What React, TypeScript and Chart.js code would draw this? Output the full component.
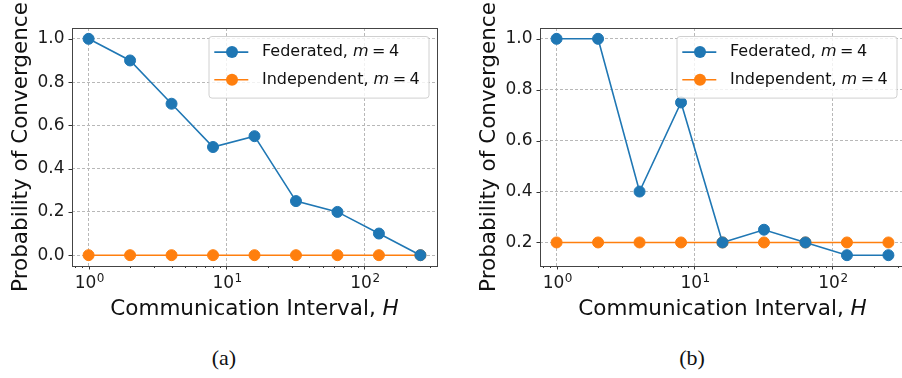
import React, { useEffect, useRef } from "react";
import { Chart, registerables } from "chart.js";
Chart.register(...registerables);

// ---------- data ----------
const intervals = [1, 2, 4, 8, 16, 32, 64, 128, 256];
const federatedA = [1.0, 0.9, 0.7, 0.5, 0.55, 0.25, 0.2, 0.1, 0.0];
const independentA = [0, 0, 0, 0, 0, 0, 0, 0, 0];
const federatedB = [1.0, 1.0, 0.4, 0.75, 0.2, 0.25, 0.2, 0.15, 0.15];
const independentB = [0.2, 0.2, 0.2, 0.2, 0.2, 0.2, 0.2, 0.2, 0.2];
const yTicksA = [0.0, 0.2, 0.4, 0.6, 0.8, 1.0];
const yTicksB = [0.2, 0.4, 0.6, 0.8, 1.0];
const xMajorTicks = [1, 10, 100];
const xMajorBase = "10";
const xMajorExponents = ["0", "1", "2"];
const xMinorTicks = [0.8, 0.9, 2, 3, 4, 5, 6, 7, 8, 9, 20, 30, 40, 50, 60, 70, 80, 90, 200, 300];
const seriesNames = ["Federated", "Independent"];
const mathVar = "m";
const mathEq = "=";
const mathVal = "4";
const yTitle = "Probability of Convergence";
const xTitle = "Communication Interval, ";
const xTitleVar = "H";
const captions = ["(a)", "(b)"];

const BLUE = "#1f77b4";
const ORANGE = "#ff7f0e";
const FONT = '"DejaVu Sans", sans-serif';
const TEXT = "#111";

type Part = { t: string; italic?: boolean; padL?: number; padR?: number; size?: number; rise?: number };

function drawRich(
  ctx: CanvasRenderingContext2D,
  parts: Part[],
  x: number,
  y: number,
  size: number,
  align: "left" | "center",
  baseline: CanvasTextBaseline = "middle"
) {
  const fontOf = (p: Part) => `${p.italic ? "italic " : ""}${p.size ?? size}px ${FONT}`;
  let total = 0;
  const ws = parts.map((p) => {
    ctx.font = fontOf(p);
    const w = ctx.measureText(p.t).width + (p.padL ?? 0) + (p.padR ?? 0);
    total += w;
    return w;
  });
  let cx = align === "center" ? x - total / 2 : x;
  ctx.textBaseline = baseline;
  ctx.textAlign = "left";
  parts.forEach((p, i) => {
    ctx.font = fontOf(p);
    ctx.fillText(p.t, cx + (p.padL ?? 0), y - (p.rise ?? 0));
    cx += ws[i];
  });
}

function logBounds(vals: number[]) {
  const lo = Math.log10(Math.min(...vals));
  const hi = Math.log10(Math.max(...vals));
  const m = (hi - lo) * 0.05;
  return [Math.pow(10, lo - m), Math.pow(10, hi + m)];
}
function linBounds(vals: number[]) {
  const lo = Math.min(...vals);
  const hi = Math.max(...vals);
  const m = (hi - lo) * 0.05;
  return [lo - m, hi + m];
}

const decorPlugin = {
  id: "decor",
  afterDraw(chart: any) {
    const ctx: CanvasRenderingContext2D = chart.ctx;
    const a = chart.chartArea;
    const xs = chart.scales.x;
    const ys = chart.scales.y;
    const yTicks: number[] = chart.options.plugins.decor.yTicks;
    ctx.save();
    // tick marks
    ctx.strokeStyle = "#333";
    ctx.lineWidth = 1;
    ctx.beginPath();
    xMajorTicks.forEach((v) => {
      const px = Math.round(xs.getPixelForValue(v)) + 0.5;
      ctx.moveTo(px, a.bottom);
      ctx.lineTo(px, a.bottom + 3.5);
    });
    xMinorTicks.forEach((v) => {
      const px = xs.getPixelForValue(v);
      if (px < a.left || px > a.right) return;
      const p = Math.round(px) + 0.5;
      ctx.moveTo(p, a.bottom);
      ctx.lineTo(p, a.bottom + 2);
    });
    yTicks.forEach((v) => {
      const py = Math.round(ys.getPixelForValue(v)) + 0.5;
      ctx.moveTo(a.left - 3.5, py);
      ctx.lineTo(a.left, py);
    });
    ctx.stroke();
    // spines
    ctx.strokeStyle = "#444";
    ctx.lineWidth = 1;
    ctx.strokeRect(Math.round(a.left) + 0.5, Math.round(a.top) + 0.5, Math.round(a.right - a.left), Math.round(a.bottom - a.top));

    // x tick labels (10 with superscript exponent)
    ctx.fillStyle = "#1a1a1a";
    xMajorTicks.forEach((v, i) => {
      const px = xs.getPixelForValue(v);
      drawRich(
        ctx,
        [{ t: xMajorBase }, { t: xMajorExponents[i], size: 12, rise: 6.6, padL: 0.5 }],
        px + 1,
        a.bottom + 22.3,
        17,
        "center",
        "alphabetic"
      );
    });

    // legend
    const lw = 220, lh = 61.6;
    const lx = a.right - 8 - lw;
    const ly = a.top + 8.5;
    const r = 3;
    ctx.beginPath();
    ctx.moveTo(lx + r, ly);
    ctx.lineTo(lx + lw - r, ly);
    ctx.arcTo(lx + lw, ly, lx + lw, ly + r, r);
    ctx.lineTo(lx + lw, ly + lh - r);
    ctx.arcTo(lx + lw, ly + lh, lx + lw - r, ly + lh, r);
    ctx.lineTo(lx + r, ly + lh);
    ctx.arcTo(lx, ly + lh, lx, ly + lh - r, r);
    ctx.lineTo(lx, ly + r);
    ctx.arcTo(lx, ly, lx + r, ly, r);
    ctx.closePath();
    ctx.fillStyle = "rgba(255,255,255,0.8)";
    ctx.fill();
    ctx.strokeStyle = "#d0d0d0";
    ctx.stroke();
    const colors = [BLUE, ORANGE];
    const rows = [15.6, 43.3];
    seriesNames.forEach((name, i) => {
      const cy = ly + rows[i];
      ctx.strokeStyle = colors[i];
      ctx.lineWidth = 1.6;
      ctx.beginPath();
      ctx.moveTo(lx + 5.3, cy);
      ctx.lineTo(lx + 39.3, cy);
      ctx.stroke();
      ctx.fillStyle = colors[i];
      ctx.beginPath();
      ctx.arc(lx + 23, cy, 6, 0, Math.PI * 2);
      ctx.fill();
      ctx.fillStyle = TEXT;
      drawRich(
        ctx,
        [
          { t: name + ", " },
          { t: mathVar, italic: true },
          { t: mathEq, padL: 3.5, padR: 3.5 },
          { t: mathVal },
        ],
        lx + 53,
        cy,
        16,
        "left"
      );
    });

    // x title
    ctx.fillStyle = TEXT;
    drawRich(ctx, [{ t: xTitle }, { t: xTitleVar, italic: true }], (a.left + a.right) / 2, a.bottom + 43, 21.5, "center");
    ctx.restore();
  },
};

function makeConfig(fed: number[], ind: number[], yTicks: number[]): any {
  const [xMin, xMax] = logBounds(intervals);
  const [yMin, yMax] = linBounds([...fed, ...ind]);
  const mk = (vals: number[]) => intervals.map((h, i) => ({ x: h, y: vals[i] }));
  const ds = (label: string, vals: number[], color: string) => ({
    label,
    data: mk(vals),
    borderColor: color,
    backgroundColor: color,
    borderWidth: 1.6,
    pointRadius: 5.5,
    pointBorderWidth: 1,
    pointBackgroundColor: color,
    pointBorderColor: color,
    tension: 0,
    fill: false,
  });
  return {
    type: "line",
    data: { datasets: [ds(seriesNames[0], fed, BLUE), ds(seriesNames[1], ind, ORANGE)] },
    plugins: [decorPlugin],
    options: {
      animation: false,
      responsive: false,
      events: [],
      layout: { padding: { left: 0, top: 28, right: 15, bottom: 0 } },
      plugins: {
        legend: { display: false },
        tooltip: { enabled: false },
        decor: { yTicks },
      },
      scales: {
        x: {
          type: "logarithmic",
          min: xMin,
          max: xMax,
          bounds: "data",
          afterBuildTicks: (s: any) => {
            s.ticks = xMajorTicks.map((v) => ({ value: v, major: true }));
          },
          afterFit: (s: any) => {
            s.height = 64;
          },
          ticks: { display: false, autoSkip: false, maxRotation: 0 },
          grid: { color: "#b8b8b8", lineWidth: 1, drawTicks: false },
          border: { display: false, dash: [3, 2] },
        },
        y: {
          type: "linear",
          min: yMin,
          max: yMax,
          bounds: "data",
          afterBuildTicks: (s: any) => {
            s.ticks = yTicks.map((v) => ({ value: v }));
          },
          afterFit: (s: any) => {
            s.width = 72;
          },
          ticks: {
            autoSkip: false,
            padding: 7.5,
            color: "#1a1a1a",
            font: { family: FONT, size: 17 },
            callback: (v: any) => Number(v).toFixed(1),
          },
          grid: { color: "#b8b8b8", lineWidth: 1, drawTicks: false },
          border: { display: false, dash: [3, 2] },
          title: {
            display: true,
            text: yTitle,
            color: TEXT,
            font: { family: FONT, size: 21.5 },
            padding: { top: 8.5, bottom: 0 },
          },
        },
      },
    },
  };
}

function Panel({ fed, ind, yTicks, left }: { fed: number[]; ind: number[]; yTicks: number[]; left: number }) {
  const ref = useRef<HTMLCanvasElement>(null);
  useEffect(() => {
    if (!ref.current) return;
    const chart = new Chart(ref.current, makeConfig(fed, ind, yTicks));
    return () => chart.destroy();
  }, []);
  return (
    <canvas
      ref={ref}
      width={452}
      height={330}
      style={{ position: "absolute", left, top: 0, width: 452, height: 330 }}
    />
  );
}

export default function App() {
  const capStyle = (cx: number): React.CSSProperties => ({
    position: "absolute",
    left: cx - 40,
    width: 80,
    top: 345,
    height: 26,
    lineHeight: "26px",
    textAlign: "center",
    fontFamily: '"Liberation Serif", serif',
    fontSize: 22,
    color: TEXT,
  });
  return (
    <div style={{ position: "absolute", left: 0, top: 0, width: 902, height: 378, overflow: "hidden", background: "#fff" }}>
      <Panel fed={federatedA} ind={independentA} yTicks={yTicksA} left={0} />
      <Panel fed={federatedB} ind={independentB} yTicks={yTicksB} left={468} />
      <div style={capStyle(224)}>{captions[0]}</div>
      <div style={capStyle(692)}>{captions[1]}</div>
    </div>
  );
}
